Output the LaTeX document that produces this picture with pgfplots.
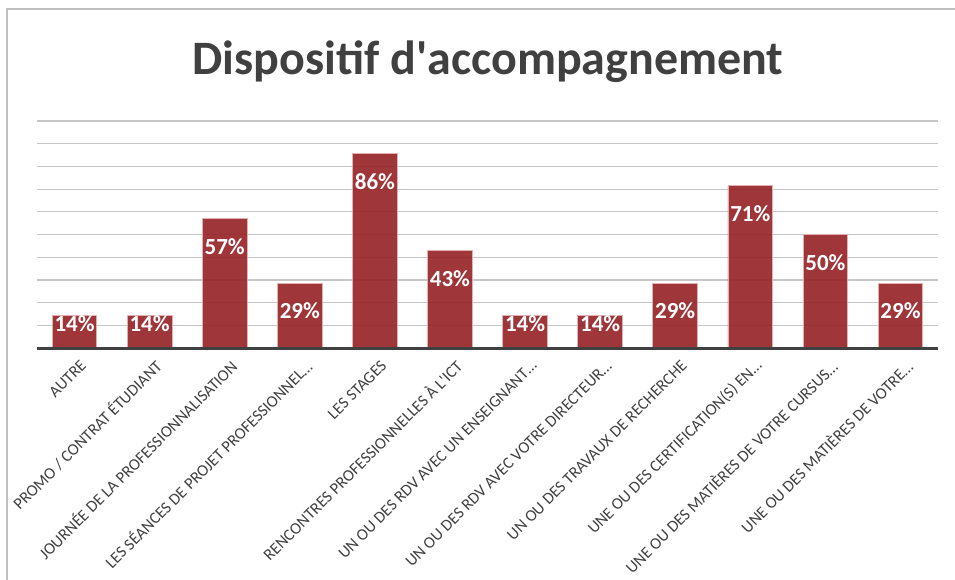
\documentclass[border=0pt]{standalone}
\usepackage{fontspec}
\setmainfont{Carlito}
\usepackage{pgfplots}
\pgfplotsset{compat=1.18}
\definecolor{barc}{HTML}{952024}
\definecolor{baredge}{HTML}{E2B0B0}
\definecolor{gridc}{HTML}{C6C6C6}
\definecolor{textc}{HTML}{404040}
\definecolor{framec}{HTML}{BFBFBF}

\begin{document}
\begin{tikzpicture}[x=1pt,y=1pt]
\path[use as bounding box] (0,0) rectangle (955,-580);
\draw[framec, line width=1.5pt] (7,-580) -- (7,-9) -- (955,-9);
\node[anchor=base, text=textc, font=\fontsize{48}{57}\selectfont\bfseries]
  at (488,-75) {Dispositif d\textquotesingle accompagnement};
\begin{axis}[at={(37pt,-348pt)}, anchor=south west, scale only axis,
  width=901pt, height=227pt,
  ymin=0, ymax=100, xmin=-0.5, xmax=11.5,
  ybar, bar width=44.7pt, bar shift=0pt,
  axis line style={draw=none}, tick style={draw=none}, major tick length=0pt,
  ytick={10,20,...,100}, yticklabels={}, ymajorgrids,
  grid style={gridc, line width=1.2pt},
  xtick={0,...,11},
  xticklabels={{AUTRE},{PROMO / CONTRAT ÉTUDIANT},{JOURNÉE DE LA PROFESSIONNALISATION},
    {LES SÉANCES DE PROJET PROFESSIONNEL…},{LES STAGES},
    {RENCONTRES PROFESSIONNELLES À L\textquotesingle ICT},
    {UN OU DES RDV AVEC UN ENSEIGNANT…},{UN OU DES RDV AVEC VOTRE DIRECTEUR…},
    {UN OU DES TRAVAUX DE RECHERCHE},{UNE OU DES CERTIFICATION(S) EN…},
    {UNE OU DES MATIÈRES DE VOTRE CURSUS…},{UNE OU DES MATIÈRES DE VOTRE…}},
  xticklabel style={rotate=45, anchor=east, font=\fontsize{16.4}{19}\selectfont,
    text=textc, xshift=-1pt, yshift=-17pt},
  /pgf/number format/assume math mode=true,
  nodes near coords={\pgfmathprintnumber[fixed,precision=0]{\pgfplotspointmeta}\%},
  nodes near coords align=center,
  visualization depends on={rawy \as \rawy},
  every node near coord/.append style={anchor=center, text=white,
    font=\fontsize{23}{27}\selectfont\bfseries,
    yshift={-min(28,\rawy*2.27-24)}},
  after end axis/.code={
    \draw[textc, line width=3pt] (rel axis cs:0,0) -- (rel axis cs:1,0);},
  ]
\addplot[fill=barc, fill opacity=0.9, text opacity=1, draw=baredge, line width=0.8pt]
  coordinates {(0,14.29) (1,14.29) (2,57.14) (3,28.57) (4,85.71) (5,42.86)
               (6,14.29) (7,14.29) (8,28.57) (9,71.43) (10,50) (11,28.57)};
\end{axis}
\end{tikzpicture}
\end{document}
